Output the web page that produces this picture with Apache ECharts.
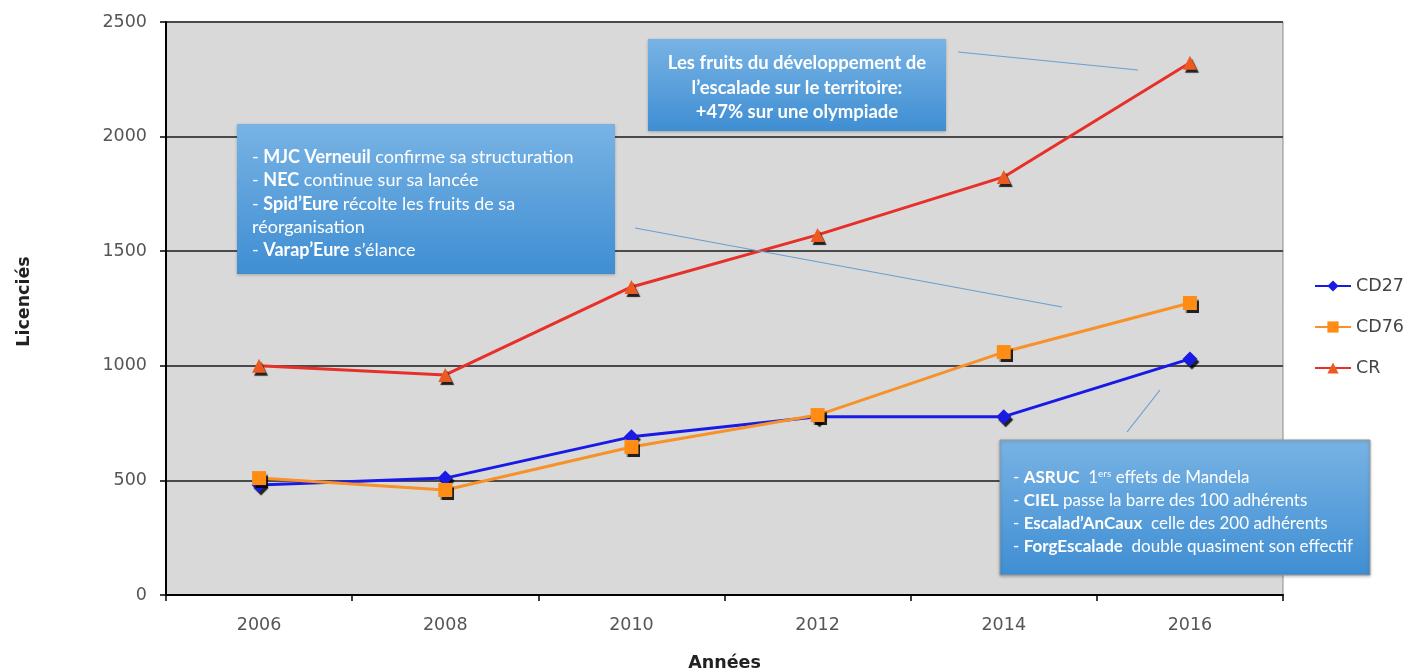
<!DOCTYPE html>
<html>
<head>
<meta charset="utf-8">
<script src="https://cdn.jsdelivr.net/npm/echarts@6/dist/echarts.min.js"></script>
<style>
html,body{margin:0;padding:0;background:#fff;}
#c{width:1408px;height:672px;}
</style>
</head>
<body>
<div id="c"></div>
<script>
const years = ['2006','2008','2010','2012','2014','2016'];
const cd27 = [480, 510, 690, 778, 778, 1030];
const cd76 = [510, 458, 646, 785, 1060, 1274];
const cr = [1000, 960, 1344, 1571, 1824, 2322];
const yTicks = [0, 500, 1000, 1500, 2000, 2500];

const chart = echarts.init(document.getElementById('c'));
const shadow = {shadowColor:'rgba(0,0,0,0.85)', shadowOffsetX:2, shadowOffsetY:3, shadowBlur:1};
const boxFill = {type:'linear', x:0, y:0, x2:0, y2:1, colorStops:[{offset:0,color:'#78b3e4'},{offset:1,color:'#3f8ed3'}]};
const rich = function(fs, lh){ return {
  b:{fontWeight:'bold', fill:'#fff', fontFamily:'Lato', fontSize:fs, lineHeight:lh},
  n:{fill:'#fff', fontFamily:'Lato', fontSize:fs, lineHeight:lh},
  s:{fill:'#fff', fontFamily:'Lato', fontSize:10, lineHeight:lh, padding:[0,0,8,0]}
};};

chart.setOption({
  backgroundColor:'#fff',
  animation:false,
  grid:{left:166, right:125, top:22, bottom:77, outerBoundsMode:'none', containLabel:false, show:true, backgroundColor:'#d9d9d9', borderColor:'#8a8a8a', borderWidth:1},
  legend:{
    orient:'vertical', left:1309, top:272, itemGap:23, itemWidth:36, itemHeight:14,
    textStyle:{fontFamily:'DejaVu Sans', fontSize:17.5, color:'#444'},
    data:['CD27','CD76','CR']
  },
  xAxis:{
    type:'category', data:years, boundaryGap:true,
    axisLine:{lineStyle:{color:'#000', width:2}},
    axisTick:{show:true, length:6, inside:false, lineStyle:{color:'#000', width:1.5}},
    axisLabel:{color:'#555', fontFamily:'DejaVu Sans', fontSize:17.5, margin:21},
    name:'Années', nameLocation:'middle', nameGap:59,
    nameTextStyle:{fontFamily:'DejaVu Sans', fontWeight:'bold', fontSize:17.5, color:'#222'}
  },
  yAxis:{
    type:'value', min:yTicks[0], max:yTicks[yTicks.length-1], interval:500,
    axisLine:{show:true, lineStyle:{color:'#000', width:2}},
    axisTick:{show:true, length:6, lineStyle:{color:'#000', width:1.5}},
    axisLabel:{color:'#555', fontFamily:'DejaVu Sans', fontSize:17.5, margin:19, formatter:function(v){return String(v);}},
    splitLine:{show:true, lineStyle:{color:'#4a4a4a', width:2}},
    name:'Licenciés', nameLocation:'middle', nameGap:133, nameRotate:90,
    nameTextStyle:{fontFamily:'DejaVu Sans', fontWeight:'bold', fontSize:17.5, color:'#222', padding:[0,0,0,14]}
  },
  series:[
    {name:'CD27', type:'line', data:cd27, symbol:'diamond', symbolSize:15,
     lineStyle:{color:'#1a1ae6', width:3}, itemStyle:Object.assign({color:'#1a1ae6'}, shadow)},
    {name:'CD76', type:'line', data:cd76, symbol:'rect', symbolSize:14,
     lineStyle:{color:'#f7922a', width:3}, itemStyle:Object.assign({color:'#ff8c14'}, shadow)},
    {name:'CR', type:'line', data:cr, symbol:'triangle', symbolSize:14,
     lineStyle:{color:'#e8302a', width:3}, itemStyle:Object.assign({color:'#ec5a22'}, shadow)}
  ],
  graphic:[
    {type:'line', shape:{x1:958,y1:52,x2:1138,y2:70}, style:{stroke:'#6a9fd0', lineWidth:1.2}, z:50},
    {type:'line', shape:{x1:635,y1:228,x2:1062,y2:307}, style:{stroke:'#6a9fd0', lineWidth:1.2}, z:50},
    {type:'line', shape:{x1:1160,y1:390,x2:1127,y2:432}, style:{stroke:'#6a9fd0', lineWidth:1.2}, z:50},
    {type:'rect', shape:{x:648,y:39,width:298,height:92}, style:{fill:boxFill, shadowColor:'rgba(0,0,0,0.25)', shadowBlur:3, shadowOffsetY:1}, z:60},
    {type:'text', x:797, y:51, z:61, style:{fill:'#fff', fontFamily:'Lato', fontWeight:'bold', fontSize:18.5, lineHeight:24.5, align:'center', text:'Les fruits du développement de\nl\u2019escalade sur le territoire:\n+47% sur une olympiade'}},
    {type:'rect', shape:{x:237,y:124,width:378,height:150}, style:{fill:boxFill, shadowColor:'rgba(0,0,0,0.25)', shadowBlur:3, shadowOffsetY:1}, z:60},
    {type:'text', x:252, y:145.5, z:61, style:{rich:rich(18, 23.3), text:'{n|- }{b|MJC Verneuil}{n| confirme sa structuration}\n{n|- }{b|NEC}{n| continue sur sa lancée}\n{n|- }{b|Spid\u2019Eure}{n| récolte les fruits de sa}\n{n|réorganisation}\n{n|- }{b|Varap\u2019Eure}{n| s\u2019élance}'}},
    {type:'rect', shape:{x:1000,y:440,width:370,height:135}, style:{fill:boxFill, stroke:'#9a9a9a', lineWidth:1, shadowColor:'rgba(0,0,0,0.25)', shadowBlur:3, shadowOffsetY:1}, z:60},
    {type:'text', x:1013, y:466.5, z:61, style:{rich:rich(17, 23), text:'{n|- }{b|ASRUC}{n|  1}{s|ers}{n| effets de Mandela}\n{n|- }{b|CIEL}{n| passe la barre des 100 adhérents}\n{n|- }{b|Escalad\u2019AnCaux}{n|  celle des 200 adhérents}\n{n|- }{b|ForgEscalade}{n|  double quasiment son effectif}'}}
  ]
});
</script>
</body>
</html>
